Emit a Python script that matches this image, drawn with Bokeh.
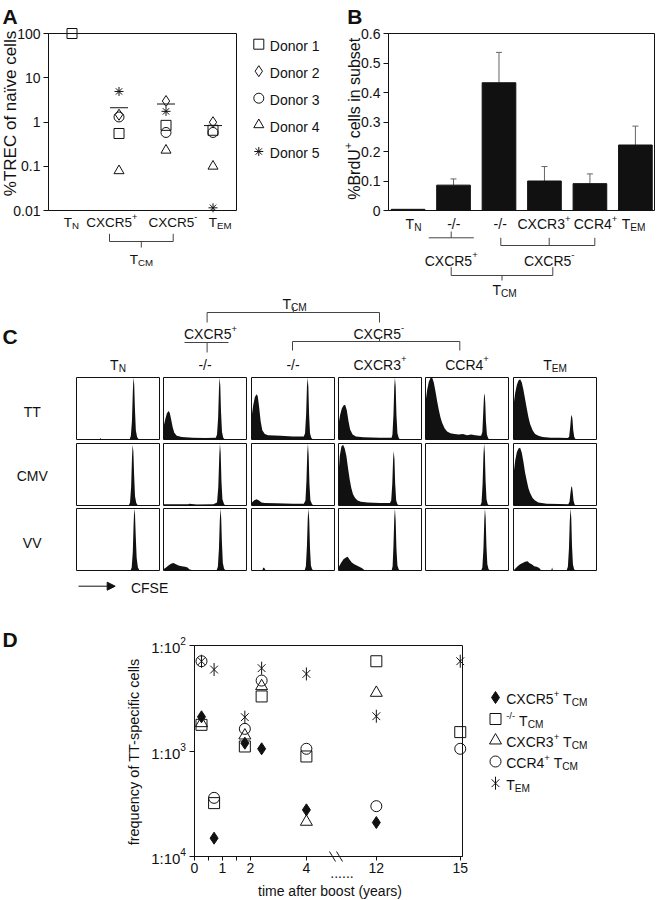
import math, re
import numpy as np
from bokeh.plotting import figure
from bokeh.models import (Range1d, LinearScale, Arrow, Whisker, ColumnDataSource,
                          FixedTicker, TeeHead, NormalHead)
from bokeh.core.properties import value
from bokeh.layouts import row, column
from bokeh.embed import file_html
from bokeh.resources import INLINE

FONT = "Liberation Sans"
INK = "#111111"
RULE = "#444444"

# ================= DATA =================
# Panel A: TREC content (% of naive cells), one list per donor, by subset
subsets_a = ["T_{N}", "CXCR5^{+}", "CXCR5^{-}", "T_{EM}"]
donor_labels = ["Donor 1", "Donor 2", "Donor 3", "Donor 4", "Donor 5"]
trec_donor1 = [100.0, 0.55, 0.84, 0.65]
trec_donor2 = [None, 1.46, 2.98, 0.99]
trec_donor3 = [None, 1.30, 0.58, 0.58]
trec_donor4 = [None, 0.079, 0.23, 0.10]
trec_donor5 = [None, 4.9, 1.74, 0.0115]
trec_mean = [None, 2.1, 2.55, 0.83]
trec_ticks = [0.01, 0.1, 1, 10, 100]
trec_tick_labels = ["0.01", "0.1", "1", "10", "100"]

# Panel B: % BrdU+ cells in subset (mean and upper error)
subsets_b = ["T_{N}", "-/-", "-/-", "CXCR3^{+}", "CCR4^{+}", "T_{EM}"]
brdu_mean = [0.004, 0.086, 0.433, 0.100, 0.091, 0.222]
brdu_upper = [None, 0.107, 0.536, 0.149, 0.124, 0.286]
brdu_ticks = [0, 0.1, 0.2, 0.3, 0.4, 0.5, 0.6]
brdu_tick_labels = ["0", "0.1", "0.2", "0.3", "0.4", "0.5", "0.6"]

# Panel C: CFSE histograms (CFSE position %, relative count), per antigen, per subset
hist_columns = ["T_{N}", "-/-", "-/-", "CXCR3^{+}", "CCR4^{+}", "T_{EM}"]
hist_rows = ["TT", "CMV", "VV"]
cfse_TT = [
    [(0,0),(28,0),(29,0.025),(30,0),(64,0),(65.5,0.06),(66.8,0.3),(67.8,0.75),(68.6,1.0),(69.5,0.9),(70.4,0.5),(71.5,0.15),(73,0.04),(75,0),(100,0)],
    [(0,0),(0,0.2),(2,0.32),(4,0.42),(6,0.46),(7.5,0.43),(9,0.34),(11,0.2),(13,0.11),(16,0.06),(22,0.04),(35,0.03),(50,0.025),(63,0.03),(64.5,0.08),(65.8,0.35),(66.8,0.8),(67.5,1.0),(68.4,0.88),(69.3,0.45),(70.5,0.12),(72,0.03),(74,0),(100,0)],
    [(0,0),(0,0.35),(2,0.55),(4,0.68),(6,0.73),(7.5,0.7),(9,0.55),(11,0.3),(13,0.15),(16,0.09),(20,0.07),(35,0.06),(50,0.05),(63,0.05),(64.5,0.1),(65.8,0.4),(66.8,0.85),(67.6,1.0),(68.5,0.85),(69.4,0.4),(70.5,0.1),(72,0.03),(74,0),(100,0)],
    [(0,0),(0,0.25),(2,0.4),(4,0.5),(6,0.55),(8,0.56),(10,0.47),(12,0.3),(14,0.16),(17,0.08),(21,0.05),(30,0.035),(50,0.03),(64,0.03),(65,0.08),(66.2,0.4),(67.2,0.85),(68,1.0),(68.9,0.85),(69.8,0.4),(71,0.1),(72.5,0.03),(74,0),(100,0)],
    [(0,0),(0,0.6),(2,0.8),(4,0.93),(6,0.99),(8,1.0),(10,0.92),(12,0.78),(14,0.62),(16,0.48),(18,0.36),(20,0.27),(23,0.18),(26,0.13),(30,0.1),(35,0.09),(40,0.08),(45,0.09),(50,0.07),(55,0.08),(60,0.07),(65,0.06),(67,0.06),(68.5,0.12),(69.6,0.45),(70.5,0.7),(71.2,0.74),(72,0.6),(72.8,0.3),(74,0.08),(75.5,0.02),(77,0),(100,0)],
    [(0,0),(0,0.55),(2,0.75),(4,0.88),(6,0.95),(8,0.97),(10,0.92),(12,0.8),(14,0.65),(16,0.5),(18,0.36),(20,0.25),(23,0.15),(26,0.09),(30,0.06),(35,0.04),(45,0.03),(55,0.03),(65,0.025),(67,0.04),(68.3,0.2),(69.3,0.36),(70.2,0.4),(71.1,0.32),(72,0.15),(73.2,0.04),(75,0),(100,0)],
]
cfse_CMV = [
    [(0,0),(63,0),(64.5,0.05),(65.8,0.3),(66.8,0.75),(67.6,0.98),(68.5,0.88),(69.4,0.5),(70.5,0.15),(72,0.04),(74,0),(100,0)],
    [(0,0),(0,0.02),(30,0.02),(31,0.03),(40,0.015),(60,0.02),(64.5,0.05),(66,0.3),(67.2,0.8),(68,1.0),(68.9,0.85),(69.8,0.4),(71,0.1),(73,0.02),(75,0),(100,0)],
    [(0,0),(0,0.04),(3,0.08),(6,0.1),(9,0.08),(12,0.05),(16,0.04),(30,0.035),(50,0.03),(63,0.03),(65,0.08),(66.2,0.4),(67.2,0.85),(68,1.0),(68.9,0.8),(69.8,0.35),(71,0.08),(73,0.02),(75,0),(100,0)],
    [(0,0),(0,0.5),(1.5,0.8),(3.5,0.95),(5.5,0.98),(7.5,0.92),(9.5,0.8),(11.5,0.6),(13.5,0.42),(15.5,0.28),(17.5,0.18),(20,0.12),(23,0.08),(27,0.06),(35,0.05),(50,0.04),(62,0.04),(63.5,0.08),(64.8,0.35),(65.8,0.75),(66.5,0.88),(67.4,0.75),(68.3,0.35),(69.5,0.08),(71,0.02),(73,0),(100,0)],
    [(0,0),(40,0),(41,0.01),(42,0),(66,0),(67.5,0.05),(68.8,0.35),(69.8,0.8),(70.6,1.0),(71.5,0.85),(72.4,0.4),(73.5,0.1),(75,0.02),(77,0),(100,0)],
    [(0,0),(0,0.5),(2,0.72),(4,0.86),(6,0.92),(8,0.93),(10,0.85),(12,0.7),(14,0.53),(16,0.4),(18,0.28),(20,0.2),(23,0.12),(26,0.08),(30,0.05),(40,0.03),(55,0.025),(66,0.02),(67.5,0.06),(68.6,0.2),(69.6,0.3),(70.4,0.31),(71.3,0.22),(72.3,0.08),(73.5,0.02),(75,0),(100,0)],
]
cfse_VV = [
    [(0,0),(65,0),(66.5,0.05),(67.8,0.3),(68.8,0.75),(69.6,1.0),(70.5,0.9),(71.4,0.55),(72.5,0.2),(74,0.05),(76,0),(100,0)],
    [(0,0),(0,0.02),(3,0.05),(6,0.08),(9,0.11),(12,0.12),(15,0.1),(18,0.08),(22,0.07),(26,0.06),(29,0.05),(31,0.02),(35,0.005),(64,0.005),(65.5,0.06),(66.8,0.35),(67.8,0.8),(68.6,1.0),(69.5,0.85),(70.4,0.45),(71.5,0.12),(73,0.03),(75,0),(100,0)],
    [(0,0),(13,0),(14,0.04),(15,0.05),(16,0.03),(17,0),(64,0),(65.5,0.07),(66.8,0.4),(67.8,0.85),(68.7,1.0),(69.6,0.8),(70.5,0.35),(71.6,0.08),(73,0.02),(75,0),(100,0)],
    [(0,0),(0,0.05),(3,0.12),(6,0.18),(9,0.21),(11,0.22),(13,0.18),(16,0.13),(19,0.1),(22,0.08),(25,0.06),(28,0.04),(30,0.02),(32,0),(64,0),(65.2,0.07),(66.2,0.4),(67.2,0.85),(68,1.0),(68.9,0.8),(69.8,0.35),(71,0.08),(72.5,0.02),(74,0),(100,0)],
    [(0,0),(67,0),(68.5,0.05),(69.8,0.35),(70.8,0.8),(71.6,1.0),(72.5,0.85),(73.4,0.4),(74.5,0.1),(76,0.02),(78,0),(100,0)],
    [(0,0),(2,0.03),(5,0.07),(8,0.1),(11,0.12),(14,0.14),(17,0.15),(19,0.12),(22,0.1),(25,0.07),(28,0.06),(31,0.04),(33,0.01),(35,0),(45.5,0),(46.5,0.05),(47.5,0),(64,0),(65.5,0.06),(66.8,0.35),(67.8,0.8),(68.7,1.0),(69.6,0.85),(70.5,0.4),(71.6,0.1),(73,0.02),(75,0),(100,0)],
]

# Panel D: frequency of TT-specific cells (1:N) vs years after boost
boost_years = [0.25, 0.7, 1.8, 2.4, 4, 12, 15]
tt_cxcr5pos = [474, 6700, 843, 953, 3614, 4764, None]
tt_double_neg = [565, 3119, 906, 304, 1127, 141, 662]
tt_cxcr3pos = [545, None, 713, 243, 4688, 281, None]
tt_ccr4pos = [141, 2780, 617, 215, 953, 3334, 953]
tt_tem = [141, 169, 478, 164, 186, 468, 141]
d_series_labels = ["CXCR5^{+} T_{CM}", "^{-/-} T_{CM}", "CXCR3^{+} T_{CM}", "CCR4^{+} T_{CM}", "T_{EM}"]
d_tick_years = [0, 0.5, 1, 1.5, 2, 4, 12, 15]
d_tick_labels = ["0", "", "1", "", "2", "4", "12", "15"]
d_freq_ticks = [1e-2, 1e-3, 1e-4]
d_freq_exps = ["2", "3", "4"]

# ================= HELPERS =================
CW = {' ': .278, '%': .889, '+': .584, '-': .333, '/': .278, '.': .278, ':': .278,
      '(': .333, ')': .333, 'ï': .278}
for ch in "0123456789":
    CW[ch] = .556
CW.update(dict(A=.667, B=.667, C=.722, D=.722, E=.667, F=.611, G=.778, H=.722, I=.278, J=.5,
               K=.667, L=.556, M=.833, N=.722, O=.778, P=.667, Q=.778, R=.722, S=.667, T=.611,
               U=.722, V=.667, W=.944, X=.667, Y=.667, Z=.611))
CW.update(dict(a=.556, b=.556, c=.5, d=.556, e=.556, f=.278, g=.556, h=.556, i=.222, j=.222,
               k=.5, l=.222, m=.833, n=.556, o=.556, p=.556, q=.556, r=.333, s=.5, t=.278,
               u=.556, v=.5, w=.722, x=.5, y=.5, z=.5))


def tw(s, size):
    return sum(CW.get(c, 0.556) for c in s) * size


def parse_rich(s):
    parts = []
    for m in re.finditer(r'\^\{([^}]*)\}|_\{([^}]*)\}|([^_^]+)', s):
        if m.group(1) is not None:
            parts.append((m.group(1), 'sup'))
        elif m.group(2) is not None:
            parts.append((m.group(2), 'sub'))
        else:
            parts.append((m.group(3), 'n'))
    return parts


def nanl(v):
    return [np.nan if x is None else x for x in v]


class Canvas:
    """Places decorations (unclipped overlay glyphs) using page pixel coordinates."""
    def __init__(self, fig, left, bottom, rn="default"):
        self.f, self.left, self.bottom, self.rn = fig, left, bottom, rn

    def px(self, x, y):
        return x - self.left, self.bottom - y

    def line(self, pts, color=RULE, width=1):
        x0s, y0s, x1s, y1s = [], [], [], []
        for a, b in zip(pts[:-1], pts[1:]):
            x0, y0 = self.px(*a)
            x1, y1 = self.px(*b)
            x0s.append(x0); y0s.append(y0); x1s.append(x1); y1s.append(y1)
        self.f.segment(x0=x0s, y0=y0s, x1=x1s, y1=y1s, line_color=color, line_width=width,
                       level="overlay", x_range_name=self.rn, y_range_name=self.rn)

    def marker(self, x, y, **kw):
        X, Y = self.px(x, y)
        self.f.scatter([X], [Y], level="overlay", x_range_name=self.rn, y_range_name=self.rn, **kw)

    def text(self, x, y, s, size=14, align="center", angle=0.0, bold=False, color=INK):
        parts = parse_rich(s)
        scale = {'n': 1.0, 'sup': 0.68, 'sub': 0.72}
        shift = {'n': 0.0, 'sup': 0.42, 'sub': -0.24}
        widths = [tw(t, size * scale[k]) for t, k in parts]
        total = sum(widths)
        cx, cy = self.px(x, y)
        d = (math.cos(angle), math.sin(angle))
        u = (-math.sin(angle), math.cos(angle))
        bx, by = cx - u[0] * 0.14 * size, cy - u[1] * 0.14 * size
        adv = {'center': -total / 2, 'left': 0.0, 'right': -total}[align]
        for (t, k), w in zip(parts, widths):
            sz = size * scale[k]
            lead = len(t) - len(t.lstrip(' '))
            a2 = adv + lead * CW[' '] * sz
            sh = shift[k] * size
            X = bx + d[0] * a2 + u[0] * sh
            Y = by + d[1] * a2 + u[1] * sh
            self.f.text(x=[X], y=[Y], text=[t.strip(' ')], angle=angle, text_align='left',
                        text_baseline='alphabetic', text_font=value(FONT),
                        text_font_size=value(f"{sz:.1f}px"),
                        text_font_style='bold' if bold else 'normal',
                        text_color=color, level="overlay",
                        x_range_name=self.rn, y_range_name=self.rn)
            adv += w


def base_fig(w, h, **kw):
    p = figure(width=w, height=h, output_backend="svg", toolbar_location=None, **kw)
    p.grid.visible = False
    p.background_fill_color = "white"
    p.border_fill_color = "white"
    return p


def blank_fig(w, h, top=0, bottom=0):
    p = base_fig(w, h, x_range=Range1d(0, w), y_range=Range1d(0, h - top - bottom),
                 x_axis_location=None, y_axis_location=None, min_border_left=0,
                 min_border_right=0, min_border_top=top, min_border_bottom=bottom)
    p.outline_line_color = None
    return p


def add_px(p, fw, fh):
    p.extra_x_ranges = {"px": Range1d(0, fw)}
    p.extra_y_ranges = {"px": Range1d(0, fh)}
    p.extra_x_scales = {"px": LinearScale()}
    p.extra_y_scales = {"px": LinearScale()}


def style_axis(ax, size="14px"):
    ax.axis_line_color = INK
    ax.major_tick_line_color = INK
    ax.minor_tick_line_color = None
    ax.major_tick_in = 0
    ax.major_tick_out = 5
    ax.major_label_text_font = FONT
    ax.major_label_text_font_size = size
    ax.major_label_text_color = INK
    ax.major_label_standoff = 3


# ================= ROW 1 (A, A-legend and B share top/bottom borders) =================
ROW1_H = 282
R1_TOP, R1_BOT = 33, 210          # common frame top / bottom (page px)
R1_FH = R1_BOT - R1_TOP

# ---- Panel A
A_L, A_W, A_FIGW = 48, 188, 240
fa = base_fig(A_FIGW, ROW1_H, x_range=Range1d(0.5, 4.5), y_range=Range1d(0.01, 100), y_axis_type="log",
              min_border_left=A_L, min_border_right=A_FIGW - A_L - A_W, min_border_top=R1_TOP,
              min_border_bottom=ROW1_H - R1_BOT)
add_px(fa, A_W, R1_FH)
fa.outline_line_color = INK
fa.xaxis.visible = False
ya = fa.yaxis[0]
style_axis(ya)
ya.ticker = FixedTicker(ticks=trec_ticks, minor_ticks=[])
ya.major_label_overrides = {t: l for t, l in zip(trec_ticks, trec_tick_labels)}

xa = list(range(1, len(subsets_a) + 1))
marker_a = [("square", 10), ("diamond", 11), ("circle", 10), ("triangle", 10), ("asterisk", 9)]
for (mk, sz), vals in zip(marker_a, [trec_donor1, trec_donor2, trec_donor3, trec_donor4, trec_donor5]):
    src = ColumnDataSource(dict(x=xa, y=nanl(vals)))
    fa.scatter("x", "y", source=src, marker=mk, size=sz, line_color=INK, fill_color=None,
               line_width=1, level="overlay")
fa.scatter(x=xa, y=nanl(trec_mean), marker="dash", size=18, line_color=INK, line_width=1)

ca = Canvas(fa, A_L, R1_BOT, "px")
ca.text(2, 13.5, "A", size=21, align="left", bold=True)
ca.text(7.5, 113, "%TREC of naïve cells", size=17, angle=math.pi / 2)
for xc, s in zip([70.8, 111.3, 172.5, 219.7], subsets_a):
    ca.text(xc, 220, s, size=13.5)
ca.line([(109, 233.3), (109, 241), (172.7, 241), (172.7, 233.3)])
ca.line([(140.8, 241), (140.8, 247)])
ca.text(141, 256.7, "T_{CM}", size=13.5)

# ---- Panel A legend (own blank figure)
fla = blank_fig(320 - A_FIGW, ROW1_H, top=R1_TOP, bottom=ROW1_H - R1_BOT)
cla = Canvas(fla, A_FIGW, R1_BOT)
leg_a_y = [43.7, 70.7, 97.7, 124.3, 151]
for (mk, sz), yy, name in zip(marker_a, leg_a_y, donor_labels):
    cla.marker(258.3, yy, marker=mk, size=sz, line_color=INK, fill_color=None, line_width=1)
    cla.text(269.3, yy, name, size=14, align="left")

# ---- Panel B
B_X0 = 320
B_L, B_W = 388, 266
fb = base_fig(337, ROW1_H, x_range=Range1d(0.57, 6.42), y_range=Range1d(0, 0.6),
              min_border_left=B_L - B_X0, min_border_right=337 - (B_L - B_X0) - B_W,
              min_border_top=R1_TOP, min_border_bottom=ROW1_H - R1_BOT)
add_px(fb, B_W, R1_FH)
fb.outline_line_color = INK
fb.xaxis.visible = False
yb = fb.yaxis[0]
style_axis(yb)
yb.ticker = FixedTicker(ticks=brdu_ticks, minor_ticks=[])
yb.major_label_overrides = {t: l for t, l in zip(brdu_ticks, brdu_tick_labels)}

xb = list(range(1, len(subsets_b) + 1))
fb.vbar(x=xb, top=brdu_mean, width=0.74, fill_color=INK, line_color=INK)
wx = [x for x, u in zip(xb, brdu_upper) if u is not None]
wl = [m for m, u in zip(brdu_mean, brdu_upper) if u is not None]
wu = [u for u in brdu_upper if u is not None]
wsrc = ColumnDataSource(dict(x=wx, lower=wl, upper=wu))
fb.add_layout(Whisker(source=wsrc, base="x", lower="lower", upper="upper", dimension="height",
                      line_color="#666666", line_width=1, lower_head=None,
                      upper_head=TeeHead(size=6, line_color="#666666", line_width=1)))

cb = Canvas(fb, B_L, R1_BOT, "px")
cb.text(346.7, 13.5, "B", size=21, align="left", bold=True)
cb.text(351.7, 118.3, "%BrdU^{+} cells in subset", size=16, angle=math.pi / 2)
for xc, s in zip([413, 453.3, 499.7, 543.5, 595, 633], subsets_b):
    cb.text(xc, 222, s, size=14)
cb.line([(428.3, 237.3), (473.3, 237.3)])
cb.line([(450.7, 231), (450.7, 237.3)])
cb.line([(500.3, 237.3), (500.3, 245), (594.3, 245), (594.3, 237.3)])
cb.line([(548.7, 237.3), (548.7, 245)])
cb.text(450.7, 258.3, "CXCR5^{+}")
cb.text(548.7, 258.3, "CXCR5^{-}")
cb.line([(450.7, 266.7), (450.7, 275), (552.3, 275), (552.3, 266.7)])
cb.line([(501.5, 275), (501.5, 280)])

# ================= PANEL C (header strip also carries B's bottom T_CM label) =================
col_widths = [87, 88, 87, 87, 88, 87]
row_heights = [66, 65, 66]
col_left = []
acc = 75
for w in col_widths:
    col_left.append(acc + 1)
    acc += w
col_centers = [l + 41.5 for l in col_left]

HDR_TOP = ROW1_H
HDR_H = 376 - HDR_TOP
fh = blank_fig(657, HDR_H)
ch = Canvas(fh, 0, HDR_TOP + HDR_H)
ch.text(504, 287.3, "T_{CM}")            # panel B group label
ch.text(2, 333, "C", size=21, align="left", bold=True)
ch.text(294, 302, "T_{CM}")
ch.line([(292.8, 306.5), (292.8, 312)])
ch.line([(206.6, 322), (206.6, 312), (379, 312), (379, 322)])
ch.text(210, 332, "CXCR5^{+}")
ch.text(378.3, 331.7, "CXCR5^{-}")
ch.line([(184, 342), (228, 342)])
ch.line([(206.6, 342), (206.6, 352)])
ch.line([(379, 337), (379, 341)])
ch.line([(292, 350), (292, 341), (459.3, 341), (459.3, 350)])
for cx, s in zip(col_centers, hist_columns):
    ch.text(cx, 362.7, s)

GRID_TOP = HDR_TOP + HDR_H
GRID_H = sum(row_heights)
fr = blank_fig(75, GRID_H)
cr = Canvas(fr, 0, GRID_TOP + GRID_H)
for yy, s in zip([409.3, 474, 540.7], hist_rows):
    cr.text(31.7, yy, s, size=14)

grid_rows = []
for hrow, rh in zip([cfse_TT, cfse_CMV, cfse_VV], row_heights):
    figs = []
    for knots, cw in zip(hrow, col_widths):
        hf = base_fig(cw, rh, x_range=Range1d(0, 100), y_range=Range1d(0, 1.0),
                      x_axis_location=None, y_axis_location=None,
                      min_border_left=1, min_border_right=cw - 84, min_border_top=1,
                      min_border_bottom=rh - 63)
        hf.outline_line_color = INK
        hf.varea(x=[k[0] for k in knots], y1=0, y2=[k[1] for k in knots], fill_color=INK)
        figs.append(hf)
    grid_rows.append(row(*figs))
cgrid = column(*grid_rows)

FOOT_TOP = GRID_TOP + GRID_H
FOOT_H = 600 - FOOT_TOP
ff = blank_fig(657, FOOT_H)
cf = Canvas(ff, 0, 600)
x0, y0 = cf.px(78, 585.7)
x1, y1 = cf.px(114.7, 585.7)
ff.add_layout(Arrow(x_start=x0, y_start=y0, x_end=x1, y_end=y1, line_color=INK, line_width=1,
                    end=NormalHead(size=8, fill_color=INK, line_color=INK)))
cf.text(130.4, 585.7, "CFSE", size=14, align="left")

# ================= PANEL D =================
D_Y0 = 600
D_L, D_T, D_W, D_H = 194, 645, 268, 211


def year_pos(t):
    return t if t <= 4.5 else t - 5.5


fd = base_fig(480, 300, x_range=Range1d(0, 9.58), y_range=Range1d(1e-4, 1e-2), y_axis_type="log",
              min_border_left=D_L, min_border_right=480 - D_L - D_W, min_border_top=D_T - D_Y0,
              min_border_bottom=900 - D_T - D_H)
add_px(fd, D_W, D_H)
fd.outline_line_color = INK
xd_ax = fd.xaxis[0]
style_axis(xd_ax)
xd_ax.major_tick_out = 4
xd_ax.major_label_standoff = 2
xd_ax.ticker = FixedTicker(ticks=[year_pos(t) for t in d_tick_years], minor_ticks=[])
xd_ax.major_label_overrides = {year_pos(t): l for t, l in zip(d_tick_years, d_tick_labels)}
yd_ax = fd.yaxis[0]
style_axis(yd_ax)
yd_ax.ticker = FixedTicker(ticks=d_freq_ticks, minor_ticks=[])
yd_ax.major_label_overrides = {t: "" for t in d_freq_ticks}

xd = [year_pos(t) for t in boost_years]


def freq(v):
    return [np.nan if n is None else 1.0 / n for n in v]


fd.scatter(xd, freq(tt_cxcr5pos), marker="diamond", size=12, fill_color=INK, line_color=INK, level="overlay")
fd.scatter(xd, freq(tt_double_neg), marker="square", size=11, fill_color=None, line_color=INK, level="overlay")
fd.scatter(xd, freq(tt_cxcr3pos), marker="triangle", size=12, fill_color=None, line_color=INK, level="overlay")
fd.scatter(xd, freq(tt_ccr4pos), marker="circle", size=11, fill_color=None, line_color=INK, level="overlay")
fd.scatter(xd, freq(tt_tem), marker="x", size=11, line_color=INK, level="overlay")
fd.scatter(xd, freq(tt_tem), marker="dash", angle=math.pi / 2, size=13, line_color=INK, level="overlay")

cd = Canvas(fd, D_L, D_T + D_H, "px")
cd.text(2, 636.5, "D", size=21, align="left", bold=True)
cd.text(131.7, 751, "frequency of TT-specific cells", size=14.5, angle=math.pi / 2)
for v, e in zip(d_freq_ticks, d_freq_exps):
    yref = D_T + D_H - (math.log10(v) + 4) / 2 * D_H
    cd.text(185.5, yref, "1:10^{" + e + "}", size=15, align="right")
cd.text(329.5, 889, "time after boost (years)", size=14)
cd.text(341.5, 871, "......", size=14)
cd.line([(329, 851), (335, 861)], color=INK)
cd.line([(336, 851), (342, 861)], color=INK)

# legend of D: same top/bottom borders as the D figure so that the row keeps its frames aligned
fl = blank_fig(177, 300, top=D_T - D_Y0, bottom=900 - D_T - D_H)
cl = Canvas(fl, 480, D_T + D_H)
leg_d_y = [697, 718.5, 740, 761, 782.7]
cl.marker(495, leg_d_y[0], marker="diamond", size=12, fill_color=INK, line_color=INK)
cl.marker(495, leg_d_y[1], marker="square", size=11, fill_color=None, line_color=INK)
cl.marker(495, leg_d_y[2], marker="triangle", size=12, fill_color=None, line_color=INK)
cl.marker(495, leg_d_y[3], marker="circle", size=11, fill_color=None, line_color=INK)
cl.marker(495, leg_d_y[4], marker="x", size=11, line_color=INK)
cl.marker(495, leg_d_y[4], marker="dash", angle=math.pi / 2, size=13, line_color=INK)
for yy, s in zip(leg_d_y, d_series_labels):
    cl.text(505.7, yy, s, size=14, align="left")

# ================= LAYOUT =================
page = column(row(fa, fla, fb), fh, row(fr, cgrid), ff, row(fd, fl))
open("out.html", "w").write(file_html(page, INLINE))
